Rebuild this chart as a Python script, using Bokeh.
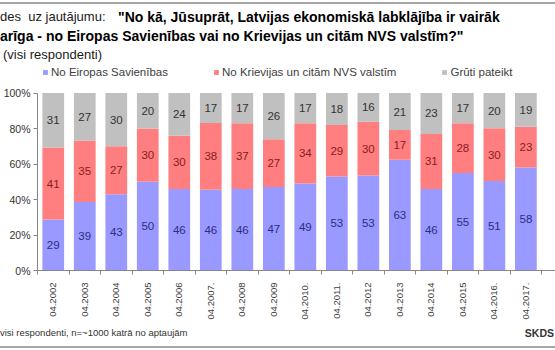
import math
from bokeh.plotting import figure
from bokeh.layouts import column
from bokeh.models import (ColumnDataSource, FixedTicker, Range1d, Legend, LegendItem, Div)
from bokeh.embed import file_html
from bokeh.resources import INLINE
from bokeh.core.properties import value

# ---- data ----
periods = ["04.2002", "04.2003", "04.2004", "04.2005", "04.2006", "04.2007.",
           "04.2008", "04.2009", "04.2010.", "04.2011.", "04.2012", "04.2013",
           "04.2014", "04.2015", "04.2016.", "04.2017."]
es_vals = [29, 39, 43, 50, 46, 46, 46, 47, 49, 53, 53, 63, 46, 55, 51, 58]
nvs_vals = [41, 35, 27, 30, 30, 38, 37, 27, 34, 29, 30, 17, 31, 28, 30, 23]
gruti_vals = [31, 27, 30, 20, 24, 17, 17, 26, 17, 18, 16, 21, 23, 17, 20, 19]
series_names = ["No Eiropas Savienības", "No Krievijas un citām NVS valstīm", "Grūti pateikt"]
y_ticks = [0, 0.2, 0.4, 0.6, 0.8, 1.0]

title_lead = "des&nbsp; uz jautājumu:"
title_q1 = "\"No kā, Jūsuprāt, Latvijas ekonomiskā labklājība ir vairāk"
title_q2 = "arīga - no Eiropas Savienības vai no Krievijas un citām NVS valstīm?\""
subtitle = "(visi respondenti)"
footnote = "visi respondenti, n=~1000 katrā no aptaujām"
source_txt = "SKDS"

FONT = "Liberation Sans"
COLORS = ["#9999ff", "#ff7f80", "#c0c0c0"]
LABEL_COLORS = ["#2e2e80", "#8a1c1c", "#333333"]
LINE_GRAY = "#a6a6a6"

W = 555
FL = 36                       # frame left (px)
H_TOP, H_MAIN, H_FOOT = 62, 260, 28

xs = list(range(len(periods)))
tot = [a + b + c for a, b, c in zip(es_vals, nvs_vals, gruti_vals)]
es_f = [a / t for a, t in zip(es_vals, tot)]
nvs_f = [b / t for b, t in zip(nvs_vals, tot)]
gr_f = [c / t for c, t in zip(gruti_vals, tot)]

src = ColumnDataSource(dict(
    x=xs, es=es_f, nvs=nvs_f, gr=gr_f,
    es_mid=[a / 2 for a in es_f],
    nvs_mid=[a + b / 2 for a, b in zip(es_f, nvs_f)],
    gr_mid=[a + b + c / 2 for a, b, c in zip(es_f, nvs_f, gr_f)],
    es_lbl=[str(v) for v in es_vals],
    nvs_lbl=[str(v) for v in nvs_vals],
    gr_lbl=[str(v) for v in gruti_vals],
))

# ---- header (title) ----
def span(left, top, size, text, weight="normal", color="#000", lh=16, extra=""):
    return (f'<div style="position:absolute;left:{left}px;top:{top}px;font-size:{size}px;'
            f'line-height:{lh}px;font-weight:{weight};color:{color};white-space:nowrap;{extra}">'
            f'{text}</div>')

header_html = (
    f'<div style="position:relative;width:{W}px;height:{H_TOP}px;overflow:hidden;'
    f'font-family:\'{FONT}\',Arial,sans-serif;">'
    f'<div style="position:absolute;left:0;top:2px;width:{W}px;height:2px;background:{LINE_GRAY};"></div>'
    + span(0, 9, 13, title_lead, color="#1a1a1a")
    + span(118, 9, 14, title_q1, weight="bold")
    + span(0, 28, 14, title_q2, weight="bold")
    + span(3, 47, 13, subtitle, color="#1a1a1a")
    + '</div>'
)
header = Div(text=header_html, width=W, height=H_TOP, styles={"margin": "0", "padding": "0"})

# ---- main chart ----
FT_CANVAS, FB_CANVAS = 64, 273           # frame top / bottom in page px
PX_PER_UNIT = 180                        # 0%..100% spans 180 px
y_top = (FB_CANVAS - FT_CANVAS) / PX_PER_UNIT
p = figure(width=W, height=H_MAIN, output_backend="svg", toolbar_location=None,
           x_range=Range1d(-0.5, 15.94), y_range=Range1d(0, y_top),
           min_border_left=FL, min_border_right=0, min_border_top=FT_CANVAS - H_TOP,
           min_border_bottom=H_TOP + H_MAIN - FB_CANVAS)
p.outline_line_color = None
p.xgrid.grid_line_color = None
p.ygrid.grid_line_color = None

renderers = p.vbar_stack(["es", "nvs", "gr"], x="x", width=0.69, color=COLORS,
                         line_color=None, source=src)

for col, lbl, tc in zip(["es_mid", "nvs_mid", "gr_mid"], ["es_lbl", "nvs_lbl", "gr_lbl"], LABEL_COLORS):
    p.text(x="x", y=col, text=lbl, source=src, text_align="center",
           text_baseline="middle", text_font=value(FONT),
           text_font_size="11.5px", text_color=tc)

xa = p.xaxis[0]
xa.ticker = FixedTicker(ticks=xs, minor_ticks=[i - 0.5 for i in range(len(periods) + 1)])
xa.major_label_overrides = {i: s for i, s in enumerate(periods)}
xa.major_label_orientation = math.pi / 2
xa.major_tick_line_color = None
xa.minor_tick_line_color = "#868686"
xa.minor_tick_out = 4
xa.minor_tick_in = 0
xa.axis_line_color = "#868686"
xa.major_label_text_font = FONT
xa.major_label_text_font_size = "9.5px"
xa.major_label_text_color = "#404040"
xa.major_label_standoff = 6

ya = p.yaxis[0]
ya.ticker = FixedTicker(ticks=y_ticks)
ya.bounds = (0, 1)
ya.major_label_overrides = {t: f"{int(round(t * 100))}%" for t in y_ticks}
ya.minor_tick_line_color = None
ya.major_tick_line_color = "#868686"
ya.major_tick_out = 4
ya.major_tick_in = 0
ya.axis_line_color = "#868686"
ya.major_label_text_font = FONT
ya.major_label_text_font_size = "10.5px"
ya.major_label_text_color = "#333333"
ya.major_label_standoff = 3

legend = Legend(items=[LegendItem(label=n, renderers=[r]) for n, r in zip(series_names, renderers)],
                orientation="horizontal", location=(41 - FL, FB_CANVAS - 81),
                glyph_width=6, glyph_height=6, label_standoff=3, spacing=45,
                padding=0, margin=0, label_height=12,
                border_line_color=None, background_fill_alpha=0,
                label_text_font=FONT, label_text_font_size="11.5px",
                label_text_color="#404040")
p.add_layout(legend, "center")

# ---- footer ----
footer_html = (
    f'<div style="position:relative;width:{W}px;height:{H_FOOT}px;overflow:hidden;'
    f'font-family:\'{FONT}\',Arial,sans-serif;">'
    + span(0, 5, 9.5, footnote, color="#333333", lh=12,
           extra="font-family:'Liberation Sans Narrow','Liberation Sans',sans-serif;")
    + f'<div style="position:absolute;right:1px;top:5px;font-size:10.5px;line-height:12px;'
      f'font-weight:bold;color:#333333;white-space:nowrap;">{source_txt}</div>'
    + f'<div style="position:absolute;left:0;top:24px;width:{W}px;height:2px;background:{LINE_GRAY};"></div>'
    + '</div>'
)
footer = Div(text=footer_html, width=W, height=H_FOOT, styles={"margin": "0", "padding": "0"})

layout = column(header, p, footer, spacing=0)
open("out.html", "w").write(file_html(layout, INLINE))
